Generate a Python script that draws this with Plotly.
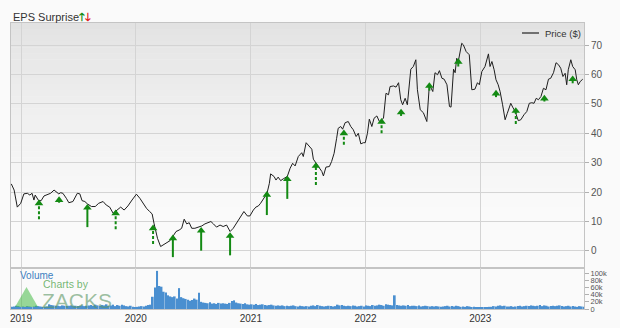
import plotly.graph_objects as go
import pandas as pd

# ---------------- data ----------------
price_dates = [
    "2018-12-01","2018-12-10","2018-12-20","2018-12-31","2019-01-10","2019-01-21","2019-01-29","2019-02-05",
    "2019-02-11","2019-02-15","2019-02-26","2019-03-06","2019-03-15","2019-03-28","2019-04-05","2019-04-16",
    "2019-04-23","2019-05-01","2019-05-07","2019-05-14","2019-05-25","2019-06-02","2019-06-15","2019-06-29",
    "2019-07-07","2019-07-14","2019-07-23","2019-07-31","2019-08-13","2019-08-25","2019-09-05","2019-09-19",
    "2019-09-29","2019-10-10","2019-10-21","2019-11-03","2019-11-14","2019-11-25","2019-12-07","2019-12-20",
    "2020-01-03","2020-01-14","2020-01-24","2020-02-04","2020-02-14","2020-02-22","2020-02-28","2020-03-10",
    "2020-03-20","2020-04-03","2020-04-19","2020-04-29","2020-05-08","2020-05-18","2020-05-26","2020-06-03",
    "2020-06-11","2020-06-19","2020-06-27","2020-07-07","2020-07-18","2020-07-29","2020-08-08","2020-08-19",
    "2020-08-27","2020-09-04","2020-09-14","2020-09-25","2020-10-05","2020-10-16","2020-10-27","2020-11-06",
    "2020-11-19","2020-12-03","2020-12-10","2020-12-21","2020-12-29","2021-01-09","2021-01-17","2021-01-25",
    "2021-02-01","2021-02-15","2021-02-22","2021-03-01","2021-03-05","2021-03-16","2021-03-22","2021-03-29",
    "2021-04-06","2021-04-14","2021-04-27","2021-05-06","2021-05-14","2021-05-22","2021-06-01","2021-06-12",
    "2021-06-17","2021-06-26","2021-07-06","2021-07-14","2021-07-19","2021-07-28","2021-08-04","2021-08-15",
    "2021-08-20","2021-08-28","2021-09-08","2021-09-15","2021-09-23","2021-10-01","2021-10-06","2021-10-14",
    "2021-10-20","2021-10-28","2021-11-07","2021-11-15","2021-11-23","2021-12-02","2021-12-09","2021-12-17",
    "2021-12-25","2021-12-31","2022-01-07","2022-01-13","2022-01-21","2022-01-28","2022-02-06","2022-02-14",
    "2022-02-27","2022-03-07","2022-03-15","2022-03-20","2022-03-31","2022-04-08","2022-04-16","2022-04-23",
    "2022-04-29","2022-05-07","2022-05-14","2022-05-25","2022-06-02","2022-06-10","2022-06-15","2022-06-24",
    "2022-07-04","2022-07-15","2022-07-23","2022-08-03","2022-08-10","2022-08-18","2022-08-24","2022-09-01",
    "2022-09-08","2022-09-17","2022-09-25","2022-09-30","2022-10-08","2022-10-13","2022-10-18","2022-10-23",
    "2022-10-29","2022-11-03","2022-11-08","2022-11-17","2022-11-27","2022-12-05","2022-12-15","2022-12-23",
    "2022-12-29","2023-01-06","2023-01-16","2023-01-27","2023-02-01","2023-02-07","2023-02-14","2023-02-20",
    "2023-02-27","2023-03-05","2023-03-13","2023-03-21","2023-03-28","2023-04-08","2023-04-14","2023-04-22",
    "2023-05-02","2023-05-10","2023-05-20","2023-05-29","2023-06-06","2023-06-14","2023-06-21","2023-06-28",
    "2023-07-05","2023-07-13","2023-07-21","2023-07-29","2023-08-06","2023-08-13","2023-08-22","2023-08-30",
    "2023-09-07","2023-09-14","2023-09-21","2023-09-28","2023-10-03","2023-10-08","2023-10-16","2023-10-22",
    "2023-10-30","2023-11-04","2023-11-09","2023-11-15","2023-11-23",
]
price_values = [
    22.8,20.7,14.9,16.2,19.4,19.6,19.0,19.6,
    17.3,19.0,17.1,17.1,18.7,19.4,19.6,20.7,
    20.2,19.4,19.8,19.6,17.9,16.4,16.8,19.6,
    19.4,17.1,16.8,16.0,15.1,15.1,16.2,16.8,
    15.6,14.9,12.8,13.9,14.9,13.9,15.3,17.3,
    19.3,17.9,16.2,14.5,13.4,12.6,9.4,4.3,
    1.5,2.4,3.5,5.1,6.6,7.1,7.7,10.8,
    9.2,9.6,7.7,7.7,8.1,8.5,9.2,9.6,
    10.0,9.2,8.1,8.8,8.3,8.8,6.6,7.7,
    10.0,12.2,13.4,11.9,11.9,13.9,14.9,15.3,
    16.2,18.5,19.8,23.0,26.2,25.3,24.1,25.1,
    23.9,24.5,25.3,28.1,29.8,28.9,32.1,33.4,
    32.1,36.8,35.5,34.6,31.2,30.0,28.7,27.0,
    25.5,28.5,28.7,30.4,33.2,38.3,41.7,42.3,
    41.4,43.6,44.0,42.3,41.2,38.9,40.0,36.4,
    36.8,36.8,40.0,44.8,42.3,45.1,45.9,44.0,
    45.1,53.6,53.1,55.9,56.1,55.7,57.2,51.4,
    49.7,51.9,49.7,61.8,62.7,65.0,54.8,48.0,
    47.0,44.0,56.5,54.2,60.6,59.9,61.3,58.7,
    58.4,56.5,49.1,48.9,61.8,60.6,65.5,64.4,
    67.8,70.6,70.1,67.8,66.7,54.8,55.0,57.2,
    56.5,61.0,62.7,67.0,62.7,64.4,61.6,58.2,
    56.5,54.2,49.7,44.6,46.8,50.2,48.9,47.4,
    44.3,44.6,46.3,47.4,50.2,50.4,50.2,51.9,
    51.4,52.5,55.3,54.8,58.4,58.7,60.6,64.0,
    63.3,62.1,59.3,60.4,56.5,61.6,65.0,62.7,
    61.6,58.2,56.5,57.6,58.4,
]

# EPS surprise arrows (all positive surprises)
eps_dates = ["2019-02-27","2019-05-02","2019-07-31","2019-10-29","2020-02-25","2020-04-28","2020-07-27",
             "2020-10-27","2021-02-21","2021-04-27","2021-07-27","2021-10-24","2022-02-21","2022-04-24",
             "2022-07-23","2022-10-23","2023-02-20","2023-04-24","2023-07-24","2023-10-22"]
eps_head = [17.1,18.2,15.6,13.7,8.6,5.2,7.8,6.0,20.0,25.3,29.8,40.9,44.8,48.0,57.0,65.2,54.4,48.5,52.7,59.3]
eps_tail = [10.8,16.4,8.1,7.4,2.4,-2.1,0.1,-1.5,12.2,17.7,22.4,36.1,40.0,45.9,54.5,62.7,52.3,43.2,50.8,57.0]
eps_dashed = [True,False,False,True,True,False,False,False,False,False,True,True,True,False,
              False,False,False,True,False,False]

# weekly volume (thousands)
volume_start = "2018-12-03"
volume_k = [
    6,7,9,8,6,
    7,6,8,7, 6,7,9,8, 7,6,6,7, 13,11,10,9, 9,8,10,9,8, 9,10,8,9, 8,9,10,8,9, 10,11,9,12,
    10,9,11,10, 13,9,10,12,8, 11,9,12,10, 8,7,9,6,5,
    6,7,8,7, 9,11,12,34, 60,106,64,62,48, 46,38,35,33, 35,29,58,33,30, 28,26,23,25,
    29,26,45,20, 18,17,16,19,15, 16,14,17,15, 16,15,14,17, 22,24,18,16,15, 14,16,13,12,
    13,12,14,11, 12,13,11,10, 11,12,10,9,10, 9,10,8,9, 8,9,10,8,7, 9,8,7,8,
    7,9,10,8, 11,9,8,7,8, 9,8,7,8, 12,10,11,9, 8,9,8,10,9, 7,8,9,7,
    10,9,8,11,9, 10,12,11,9, 13,12,11,10, 38,11,10,9, 10,9,11,8,9, 9,8,10,7,
    8,9,8,7,8, 7,8,7,6, 7,8,9,7, 8,7,9,8,6, 7,6,8,7, 5,6,4,5,
    4,3,5,4,6, 6,8,7,9, 10,8,9,7, 7,8,6,7, 8,9,7,8,9, 8,10,9,8,
    9,11,8,10,9, 7,8,9,8, 9,10,8,7, 8,9,7,8,7, 6,8,7,6,
]
volume_dates = pd.date_range(volume_start, periods=len(volume_k), freq="7D")
volume_values = [v * 1000 for v in volume_k]

price_ticks = [0, 10, 20, 30, 40, 50, 60, 70]
vol_ticks = [0, 20000, 40000, 60000, 80000, 100000]
vol_tick_text = ["0", "20k", "40k", "60k", "80k", "100k"]

# ---------------- figure ----------------
FONT = "Liberation Sans, Arial, sans-serif"
GREEN = "#138a13"
GRID = "#d4d4d4"
AXL = "#c4c4c4"
W, H = 620, 328
ML, MR, MT, MB = 11, 36, 23, 19
PW, PH = W - ML - MR, H - MT - MB
split = (H - MB - 268) / PH  # volume pane top


def px_x(p):
    return (p - ML) / PW


def px_y(p):
    return (H - MB - p) / PH


fig = go.Figure()

fig.add_trace(go.Scatter(x=price_dates, y=price_values, mode="lines",
                         line=dict(color="#1e1e1e", width=1), xaxis="x", yaxis="y",
                         showlegend=False, hoverinfo="skip"))

for dashed in (False, True):
    xs, ys = [], []
    for d, h, t, ds in zip(eps_dates, eps_head, eps_tail, eps_dashed):
        if ds == dashed:
            xs += [d, d, None]
            ys += [t, h - 1.2, None]
    fig.add_trace(go.Scatter(x=xs, y=ys, mode="lines",
                             line=dict(color=GREEN, width=2, dash="3px,2px" if dashed else "solid"),
                             xaxis="x", yaxis="y", showlegend=False, hoverinfo="skip"))

fig.add_trace(go.Scatter(x=eps_dates, y=[h - 0.9 for h in eps_head], mode="markers",
                         marker=dict(symbol="triangle-up", size=7.5, color=GREEN, line=dict(width=0)),
                         xaxis="x", yaxis="y", showlegend=False, hoverinfo="skip"))

fig.add_trace(go.Bar(x=volume_dates, y=volume_values, marker=dict(color="#4a8fd0", line=dict(width=0)),
                     xaxis="x2", yaxis="y2", showlegend=False, hoverinfo="skip"))

xr = ["2018-11-30", "2023-11-27"]
common_x = dict(range=xr, type="date", dtick="M12", tick0="2019-01-01", showgrid=True,
                gridcolor=GRID, gridwidth=1, showline=True, linecolor=AXL, mirror=True,
                zeroline=False, automargin=False)

fig.update_layout(
    width=W, height=H,
    margin=dict(l=ML, r=MR, t=MT, b=MB, pad=0, autoexpand=False),
    paper_bgcolor="#fafafa",
    plot_bgcolor="rgba(0,0,0,0)",
    font=dict(family=FONT, size=10, color="#444"),
    bargap=0.2,
    xaxis=dict(domain=[0, 1], anchor="y", showticklabels=False, ticks="", **common_x),
    xaxis2=dict(domain=[0, 1], anchor="y2", matches="x", showticklabels=True, ticks="",
                tickformat="%Y", tickfont=dict(size=10, color="#333"), **common_x),
    yaxis=dict(domain=[split, 1], anchor="x", side="right", range=[-5.8, 77.5],
               tickvals=price_ticks, showgrid=True, gridcolor=GRID, gridwidth=1,
               ticks="outside", ticklen=4, tickcolor="#b0b0b0", showline=True, linecolor=AXL,
               mirror=True, zeroline=False, automargin=False, tickfont=dict(size=10, color="#555")),
    yaxis2=dict(domain=[0, split], anchor="x2", side="right", range=[0, 114000],
                tickvals=vol_ticks, ticktext=vol_tick_text, showgrid=False,
                ticks="outside", ticklen=4, tickcolor="#b0b0b0", showline=True, linecolor=AXL,
                mirror=True, zeroline=False, automargin=False, tickfont=dict(size=7.5, color="#555")),
    showlegend=False,
)

# background gradient in the price pane
shapes = []
n = 40
c_top, c_bot = (226, 226, 226), (250, 250, 250)
for i in range(n):
    f0 = i / n
    f1 = (i + 1) / n
    y1 = 1 - (1 - split) * f0
    y0 = 1 - (1 - split) * f1
    g = min(1.0, (f0 / 0.75)) ** 0.8
    col = tuple(int(round(a + (b - a) * g)) for a, b in zip(c_top, c_bot))
    shapes.append(dict(type="rect", xref="paper", yref="paper", x0=0, x1=1, y0=y0, y1=y1 + 0.001,
                       fillcolor="rgb(%d,%d,%d)" % col, line=dict(width=0), layer="below"))

# legend line
shapes.append(dict(type="line", xref="paper", yref="paper", x0=px_x(522), x1=px_x(539),
                   y0=px_y(33), y1=px_y(33), line=dict(color="#222", width=1.2)))

# Zacks logo triangle
shapes.append(dict(type="path", xref="paper", yref="paper",
                   path="M %f %f L %f %f L %f %f Z" % (px_x(15), px_y(307), px_x(26.5), px_y(287),
                                                       px_x(38), px_y(307)),
                   fillcolor="rgba(70,185,70,0.55)", line=dict(width=0)))
fig.update_layout(shapes=shapes)

annotations = [
    dict(text="EPS Surprise<span style='color:#138a13'><b>🡑</b></span><span style='color:#e0201c'><b>🡓</b></span>",
         xref="paper", yref="paper", x=0, y=px_y(17), xanchor="left", yanchor="middle",
         showarrow=False, font=dict(size=11, color="#333")),
    dict(text="Price ($)", xref="paper", yref="paper", x=px_x(543), y=px_y(33.5),
         xanchor="left", yanchor="middle", showarrow=False, font=dict(size=9.5, color="#333")),
    dict(text="Volume", xref="paper", yref="paper", x=px_x(18), y=px_y(275.5),
         xanchor="left", yanchor="middle", showarrow=False, font=dict(size=10, color="#3d7fc1")),
    dict(text="Charts by", xref="paper", yref="paper", x=px_x(41), y=px_y(284),
         xanchor="left", yanchor="middle", showarrow=False,
         font=dict(size=10.5, color="rgba(70,160,70,0.75)")),
    dict(text="ZACKS", xref="paper", yref="paper", x=px_x(40), y=px_y(300),
         xanchor="left", yanchor="middle", showarrow=False,
         font=dict(size=21, color="rgba(90,150,100,0.6)")),
]
fig.update_layout(annotations=annotations)

fig.write_html("out.html")
